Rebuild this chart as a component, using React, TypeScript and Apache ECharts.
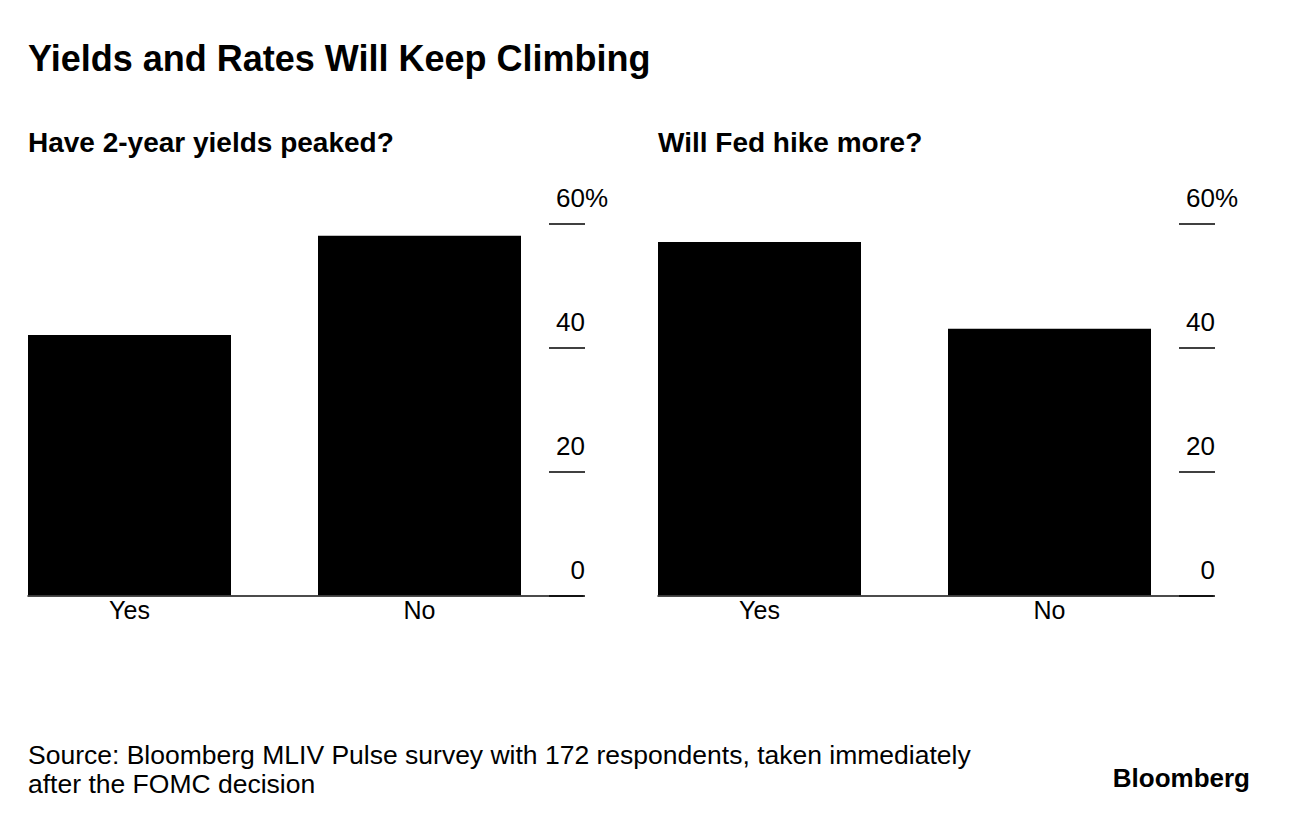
import React, { useEffect, useRef } from "react";
import * as echarts from "echarts";

const categories = ["Yes", "No"];
const yieldsPeaked = [42, 58];
const fedHikeMore = [57, 43];
const yMin = 0;
const yMax = 60;
const yInterval = 20;

const mainTitle = "Yields and Rates Will Keep Climbing";
const leftTitle = "Have 2-year yields peaked?";
const rightTitle = "Will Fed hike more?";
const sourceText =
  "Source: Bloomberg MLIV Pulse survey with 172 respondents, taken immediately\nafter the FOMC decision";
const brand = "Bloomberg";

const FONT = "'Liberation Sans', Arial, Helvetica, sans-serif";

export default function App() {
  const ref = useRef<HTMLDivElement>(null);
  useEffect(() => {
    if (!ref.current) return;
    const chart = echarts.init(ref.current, null, { renderer: "svg" });
    const top = 223.3;
    const height = 372;
    const offsets = [0, 630];
    const grids: any[] = [];
    const xAxes: any[] = [];
    const yAxes: any[] = [];
    offsets.forEach((o, i) => {
      grids.push({ left: 28 + o, top, width: 555, height });
      grids.push({ left: 129.5 + o, top, width: 290, height });
      const gBase = i * 2;
      const gBar = i * 2 + 1;
      xAxes.push({
        gridIndex: gBase,
        type: "value",
        min: 0,
        max: 1,
        axisLine: { show: true, lineStyle: { color: "#111", width: 1.5 } },
        axisTick: { show: false },
        axisLabel: { show: false },
        splitLine: { show: false },
      });
      xAxes.push({
        gridIndex: gBar,
        type: "category",
        boundaryGap: false,
        data: categories,
        axisLine: { show: false },
        axisTick: { show: false },
        axisLabel: {
          show: true,
          color: "#000",
          fontFamily: FONT,
          fontSize: 25,
          margin: 2,
        },
      });
      yAxes.push({
        gridIndex: gBase,
        type: "value",
        min: yMin,
        max: yMax,
        show: false,
      });
      yAxes.push({
        gridIndex: gBar,
        type: "value",
        min: yMin,
        max: yMax,
        interval: yInterval,
        position: "right",
        offset: 129.5,
        axisLine: { show: false },
        splitLine: { show: false },
        axisTick: {
          show: true,
          length: 36,
          lineStyle: { color: "#000", width: 1.5 },
        },
        axisLabel: {
          show: true,
          margin: 36,
          align: "right",
          verticalAlign: "bottom",
          padding: [0, 0, 12, 0],
          color: "#000",
          fontFamily: FONT,
          fontSize: 26,
          formatter: (v: number) => (v === yMax ? `{n|${v}}{p|%}` : `${v}`),
          rich: {
            n: {
              align: "left",
              color: "#000",
              fontFamily: FONT,
              fontSize: 26,
            },
            p: {
              align: "left",
              width: 0,
              color: "#000",
              fontFamily: FONT,
              fontSize: 26,
            },
          },
        },
      });
    });

    chart.setOption({
      animation: false,
      backgroundColor: "#fff",
      title: [
        {
          text: mainTitle,
          left: 28,
          top: 40,
          padding: 0,
          textStyle: { fontFamily: FONT, fontSize: 36, fontWeight: "bold", color: "#000" },
        },
        {
          text: leftTitle,
          left: 28,
          top: 128,
          padding: 0,
          textStyle: { fontFamily: FONT, fontSize: 28, fontWeight: "bold", color: "#000" },
        },
        {
          text: rightTitle,
          left: 658,
          top: 128,
          padding: 0,
          textStyle: { fontFamily: FONT, fontSize: 28, fontWeight: "bold", color: "#000" },
        },
        {
          text: sourceText,
          left: 28,
          top: 740.5,
          padding: 0,
          textStyle: {
            fontFamily: FONT,
            fontSize: 26.5,
            fontWeight: "normal",
            color: "#000",
            lineHeight: 29,
          },
        },
      ],
      graphic: [
        {
          type: "text",
          right: 39,
          top: 765,
          style: {
            text: brand,
            fontFamily: FONT,
            fontSize: 26,
            fontWeight: "bold",
            fill: "#000",
          },
        },
      ],
      grid: grids,
      xAxis: xAxes,
      yAxis: yAxes,
      series: [
        {
          type: "bar",
          xAxisIndex: 1,
          yAxisIndex: 1,
          data: yieldsPeaked,
          barWidth: 203,
          clip: false,
          itemStyle: { color: "#000" },
        },
        {
          type: "bar",
          xAxisIndex: 3,
          yAxisIndex: 3,
          data: fedHikeMore,
          barWidth: 203,
          clip: false,
          itemStyle: { color: "#000" },
        },
      ],
    });
    return () => chart.dispose();
  }, []);
  return (
    <div
      ref={ref}
      style={{ position: "fixed", left: 0, top: 0, width: 1289, height: 824, background: "#fff" }}
    />
  );
}
